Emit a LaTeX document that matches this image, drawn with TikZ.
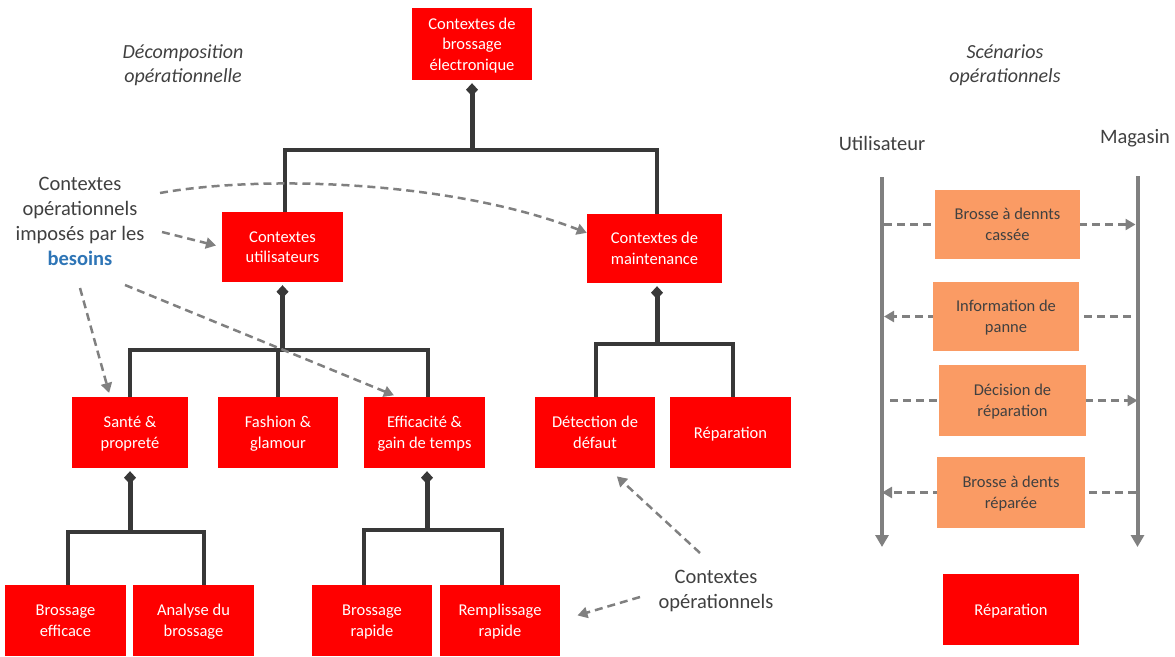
\documentclass[tikz,border=0pt]{standalone}
\usepackage{fontspec}
\setmainfont{Carlito}
\usetikzlibrary{arrows.meta,backgrounds}
\definecolor{boxred}{RGB}{255,0,0}
\definecolor{msgorange}{RGB}{250,155,100}
\definecolor{treeline}{RGB}{56,56,56}
\definecolor{hint}{RGB}{128,128,128}
\definecolor{txt}{RGB}{64,64,64}
\definecolor{keyblue}{RGB}{46,117,182}

\begin{document}
\begin{tikzpicture}[x=1pt,y=-1pt,
  ctx/.style={fill=boxred, text=white, align=center, inner sep=0pt, text depth=-1.5pt,
    font=\fontsize{16.5}{20.5}\selectfont},
  msgbox/.style={fill=msgorange, text=txt, align=center, inner sep=0pt, text depth=-1pt,
    font=\fontsize{16.5}{20.5}\selectfont},
  note/.style={text=txt, align=center, inner sep=0pt,
    font=\fontsize{20.5}{25}\selectfont},
  heading/.style={text=txt, align=center, inner sep=0pt,
    font=\fontsize{20}{24}\selectfont\itshape},
  stem/.style={draw=treeline, line width=5pt, {Diamond[length=13pt,width=12pt]}-, shorten <=3pt},
  bar/.style={draw=treeline, line width=4pt},
  hintarrow/.style={draw=hint, line width=2.5pt, dash pattern=on 8pt off 5pt,
    -{Triangle[length=10pt,width=11pt]}},
  msg/.style={draw=hint, line width=2.5pt, dash pattern=on 8pt off 5pt,
    -{Triangle[length=10pt,width=11pt]}},
  lifeline/.style={draw=hint, line width=4pt, -{Triangle[length=12pt,width=13pt]}}
]
\useasboundingbox (0,0) rectangle (1175,656);

% ---------- decomposition tree ----------
\node[heading] (dechead) at (183,65) {Décomposition\\opérationnelle};

\node[ctx, minimum width=120pt, minimum height=72pt] (top) at (472,44) {Contextes de\\brossage\\électronique};

\node[ctx, minimum width=121pt, minimum height=70pt] (util) at (282.5,247) {Contextes\\utilisateurs};
\node[ctx, minimum width=135pt, minimum height=69pt] (maint) at (654.5,248.5) {Contextes de\\maintenance};

\node[ctx, minimum width=116pt, minimum height=71pt] (sante) at (130,432.5) {Santé \&\\propreté};
\node[ctx, minimum width=120pt, minimum height=71pt] (fashion) at (278,432.5) {Fashion \&\\glamour};
\node[ctx, minimum width=121pt, minimum height=71pt] (eff) at (424.5,432.5) {Efficacité \&\\gain de temps};
\node[ctx, minimum width=120pt, minimum height=71pt] (det) at (595,432.5) {Détection de\\défaut};
\node[ctx, minimum width=121pt, minimum height=71pt] (rep) at (730.5,432.5) {Réparation};

\node[ctx, minimum width=121pt, minimum height=71pt] (be) at (65.5,620.5) {Brossage\\efficace};
\node[ctx, minimum width=121pt, minimum height=71pt] (ab) at (193.5,620.5) {Analyse du\\brossage};
\node[ctx, minimum width=120pt, minimum height=71pt] (br) at (372,620.5) {Brossage\\rapide};
\node[ctx, minimum width=120pt, minimum height=71pt] (rr) at (500,620.5) {Remplissage\\rapide};

% composition links
\coordinate (j0) at (top.south |- 0,150);
\draw[stem] (top.south) -- (j0);
\draw[bar] (j0) -| ([xshift=2.5pt]util.north);
\draw[bar] (j0) -| ([xshift=2.5pt]maint.north);

\coordinate (j1) at (util.south |- 0,350);
\draw[stem] (util.south) -- (j1);
\draw[bar] (j1) -| (sante.north);
\draw[bar] (j1) -| (fashion.north);
\draw[bar] (j1) -| ([xshift=3.5pt]eff.north);

\coordinate (j2) at ([xshift=2.5pt]maint.south |- 0,344);
\draw[stem] ([xshift=2.5pt]maint.south) -- (j2);
\draw[bar] (j2) -| ([xshift=1pt]det.north);
\draw[bar] (j2) -| ([xshift=2.5pt]rep.north);

\coordinate (j3) at (sante.south |- 0,532);
\draw[stem] (sante.south) -- (j3);
\draw[bar] (j3) -| ([xshift=2.5pt]be.north);
\draw[bar] (j3) -| ([xshift=10.5pt]ab.north);

\coordinate (j4) at ([xshift=2.5pt]eff.south |- 0,530);
\draw[stem] ([xshift=2.5pt]eff.south) -- (j4);
\draw[bar] (j4) -| ([xshift=-8pt]br.north);
\draw[bar] (j4) -| ([xshift=2pt]rr.north);

% ---------- annotations ----------
\node[note] (needs) at (80,221.5) {Contextes\\opérationnels\\imposés par les\\\textcolor{keyblue}{\bfseries besoins}};
\coordinate (n1) at (160,193);
\coordinate (n2) at (162,232);
\coordinate (n3) at (80,288);
\coordinate (n4) at (125,285);
\draw[hintarrow] (n1) .. controls (260,175) and (450,180) .. (maint.167);
\draw[hintarrow, shorten >=6pt] (n2) -- (util.west);
\draw[hintarrow, shorten >=4pt] (n3) -- (sante.119);
\draw[hintarrow, shorten >=4pt] (n4) -- (eff.127);

\node[note] (opnote) at (716,591) {Contextes\\opérationnels};
\coordinate (o1) at (700,553);
\coordinate (o2) at (640,597);
\draw[hintarrow, shorten >=12pt] (o1) -- (det.-70);
\draw[hintarrow, shorten >=18pt] (o2) -- (rr.east);

% ---------- operational scenario ----------
\node[heading] (schead) at (1005,65) {Scénarios\\opérationnels};
\node[note] (user) at (882,143) {Utilisateur};
\node[note] (shop) at (1135,138) {Magasin};

\coordinate (ut) at (882,177);
\coordinate (ub) at (882,547);
\coordinate (mt) at (1137.5,176);
\coordinate (mb) at (1137.5,547);
\draw[lifeline] (ut) -- (ub);
\draw[lifeline] (mt) -- (mb);

\node[msgbox, minimum width=145pt, minimum height=69pt] (m1) at (1007.5,224.5) {Brosse à dennts\\cassée};
\node[msgbox, minimum width=146pt, minimum height=69pt] (m2) at (1006,316.5) {Information de\\panne};
\node[msgbox, minimum width=147pt, minimum height=71pt] (m3) at (1012.5,400.5) {Décision de\\réparation};
\node[msgbox, minimum width=148pt, minimum height=71pt] (m4) at (1011,492.5) {Brosse à dents\\réparée};
\node[ctx, minimum width=136pt, minimum height=71pt] (rep2) at (1011,609.5) {Réparation};

\begin{scope}[on background layer]
\draw[msg, shorten <=2pt, shorten >=2pt] (ut |- m1.center) -- (mt |- m1.center);
\draw[msg, shorten <=7pt, shorten >=2pt] (mt |- m2.center) -- (ut |- m2.center);
\draw[msg, shorten <=8pt] (ut |- m3.center) -- (mt |- m3.center);
\draw[msg, shorten <=2pt] (mt |- m4.center) -- (ut |- m4.center);
\end{scope}
\end{tikzpicture}
\end{document}
